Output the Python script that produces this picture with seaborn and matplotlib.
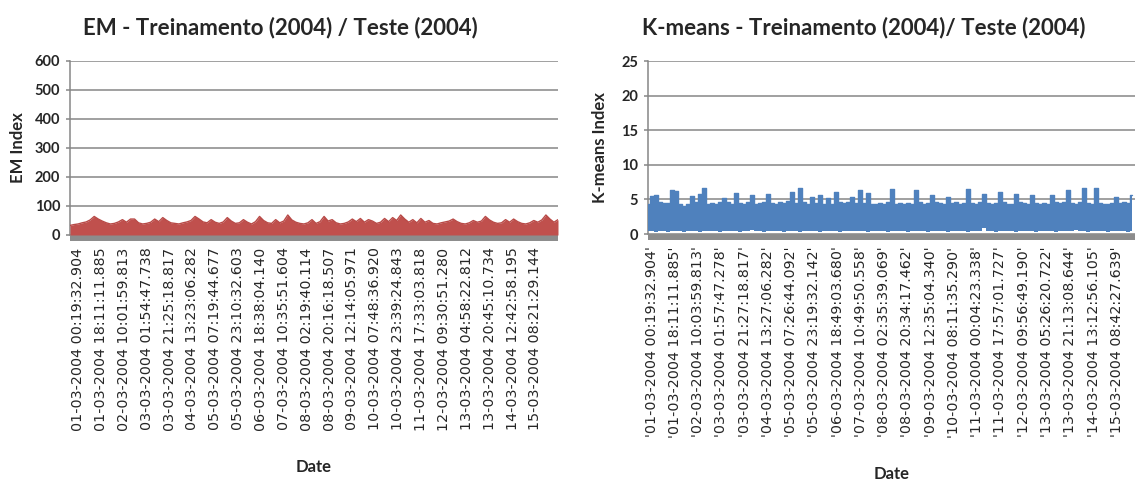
import seaborn as sns
import matplotlib.pyplot as plt
import numpy as np
import pandas as pd

# EM index (upper envelope of the red area), one value every few samples
em_index = [33, 36, 38, 42, 45, 52, 64, 55, 48, 42, 38, 40, 45, 53, 44, 55, 55, 42, 38, 40,
            44, 55, 46, 60, 50, 42, 40, 38, 42, 45, 50, 64, 55, 45, 42, 53, 44, 40, 45, 60,
            48, 40, 42, 53, 44, 38, 46, 64, 50, 42, 40, 53, 42, 48, 69, 52, 44, 40, 38, 42,
            53, 40, 46, 64, 48, 53, 42, 38, 40, 45, 55, 46, 57, 44, 53, 48, 40, 44, 57, 46,
            60, 50, 69, 55, 44, 53, 42, 57, 44, 50, 40, 38, 42, 45, 48, 55, 46, 40, 38, 42,
            50, 44, 48, 64, 52, 44, 40, 42, 53, 44, 55, 46, 40, 38, 42, 50, 44, 52, 69, 55,
            44, 53]

# K-means index: upper and lower envelope of the blue band
km_upper = [4.4, 5.5, 5.7, 4.6, 4.5, 4.5, 6.3, 6.2, 4.3, 4.0, 4.4, 5.5, 4.6, 5.8, 6.6, 4.4,
            4.5, 4.4, 4.6, 5.2, 4.6, 4.4, 5.9, 4.5, 4.3, 4.6, 5.7, 4.4, 4.5, 4.6, 5.8, 4.5,
            4.4, 4.6, 4.5, 4.7, 6.1, 4.5, 6.6, 4.6, 4.3, 5.4, 4.5, 5.6, 4.4, 5.2, 4.4, 6.1,
            4.6, 4.5, 4.6, 5.4, 4.5, 6.4, 4.5, 5.9, 4.4, 4.3, 4.5, 4.4, 4.6, 6.5, 4.4, 4.5,
            4.3, 4.5, 4.4, 6.3, 4.6, 4.4, 4.5, 5.7, 4.6, 4.5, 4.3, 5.4, 4.5, 4.6, 4.4, 4.5,
            6.5, 4.5, 4.4, 4.6, 5.8, 4.5, 4.4, 4.5, 6.1, 4.6, 4.4, 4.3, 5.8, 4.6, 4.5, 4.4,
            5.6, 4.5, 4.3, 4.5, 4.4, 5.7, 4.6, 4.5, 4.6, 6.3, 4.5, 4.4, 4.6, 6.7, 4.5, 4.4,
            6.6, 4.5, 4.4, 4.3, 4.5, 5.4, 4.5, 4.6, 4.5, 5.7]
km_lower = [0.4, 0.4, 0.35, 0.4, 0.4, 0.35, 0.4, 0.4, 0.4, 0.35, 0.4, 0.4, 0.4, 0.35, 0.4, 0.4,
            0.4, 0.4, 0.35, 0.4, 0.4, 0.4, 0.4, 0.35, 0.4, 0.4, 0.55, 0.4, 0.4, 0.35, 0.4, 0.4,
            0.4, 0.4, 0.35, 0.4, 0.4, 0.4, 0.35, 0.4, 0.4, 0.4, 0.4, 0.35, 0.4, 0.4, 0.4, 0.4,
            0.35, 0.4, 0.4, 0.4, 0.5, 0.4, 0.4, 0.35, 0.4, 0.4, 0.4, 0.4, 0.35, 0.4, 0.4, 0.4,
            0.4, 0.35, 0.4, 0.4, 0.4, 0.4, 0.35, 0.4, 0.4, 0.4, 0.4, 0.35, 0.4, 0.4, 0.4, 0.4,
            0.35, 0.4, 0.4, 0.5, 0.8, 0.4, 0.4, 0.35, 0.4, 0.4, 0.4, 0.4, 0.35, 0.4, 0.4, 0.4,
            0.4, 0.35, 0.4, 0.4, 0.4, 0.4, 0.35, 0.4, 0.4, 0.4, 0.4, 0.6, 0.4, 0.4, 0.35, 0.4,
            0.4, 0.4, 0.4, 0.35, 0.4, 0.4, 0.4, 0.4, 0.35, 0.4]

em_labels = ['01-03-2004 00:19:32.904', '01-03-2004 18:11:11.885', '02-03-2004 10:01:59.813',
             '03-03-2004 01:54:47.738', '03-03-2004 21:25:18.817', '04-03-2004 13:23:06.282',
             '05-03-2004 07:19:44.677', '05-03-2004 23:10:32.603', '06-03-2004 18:38:04.140',
             '07-03-2004 10:35:51.604', '08-03-2004 02:19:40.114', '08-03-2004 20:16:18.507',
             '09-03-2004 12:14:05.971', '10-03-2004 07:48:36.920', '10-03-2004 23:39:24.843',
             '11-03-2004 17:33:03.818', '12-03-2004 09:30:51.280', '13-03-2004 04:58:22.812',
             '13-03-2004 20:45:10.734', '14-03-2004 12:42:58.195', '15-03-2004 08:21:29.144']
km_labels = ["'01-03-2004 00:19:32.904'", "'01-03-2004 18:11:11.885'", "'02-03-2004 10:03:59.813'",
             "'03-03-2004 01:57:47.278'", "'03-03-2004 21:27:18.817'", "'04-03-2004 13:27:06.282'",
             "'05-03-2004 07:26:44.092'", "'05-03-2004 23:19:32.142'", "'06-03-2004 18:49:03.680'",
             "'07-03-2004 10:49:50.558'", "'08-03-2004 02:35:39.069'", "'08-03-2004 20:34:17.462'",
             "'09-03-2004 12:35:04.340'", "'10-03-2004 08:11:35.290'", "'11-03-2004 00:04:23.338'",
             "'11-03-2004 17:57:01.727'", "'12-03-2004 09:56:49.190'", "'13-03-2004 05:26:20.722'",
             "'13-03-2004 21:13:08.644'", "'14-03-2004 13:12:56.105'", "'15-03-2004 08:42:27.639'"]

sns.set_style('white')
plt.rcParams['font.family'] = ['Lato', 'DejaVu Sans']

RED = '#C0504D'
BLUE = '#4F81BD'
GRID = '#868686'
FLOOR = '#8C8C8C'

fig = plt.figure(figsize=(11.35, 4.8), dpi=100)
ax1 = fig.add_axes([70 / 1135, 1 - 235 / 480, 488 / 1135, 174 / 480])
ax2 = fig.add_axes([648 / 1135, 1 - 234 / 480, 487 / 1135, 173 / 480])

em_df = pd.DataFrame({'i': np.arange(len(em_index)), 'EM': em_index})
km_df = pd.DataFrame({'i': np.arange(len(km_upper)), 'up': km_upper, 'low': km_lower})

# EM chart
ax1.fill_between(em_df['i'], 0, em_df['EM'], color=RED, lw=0, zorder=3)
sns.lineplot(data=em_df, x='i', y='EM', ax=ax1, color='#B84A47', lw=1, zorder=4)
ax1.set_xlim(0, len(em_index) - 1)
ax1.set_ylim(0, 600)
ax1.set_yticks(range(0, 601, 100))
ax1.set_xticks(np.linspace(2, 115.4, len(em_labels)))
ax1.set_xticklabels(em_labels)
ax1.set_ylabel('EM Index')
ax1.yaxis.set_label_coords(-0.107, 0.5)

# K-means chart
ax2.fill_between(km_df['i'], km_df['low'], km_df['up'], step='mid', color=BLUE, lw=0, zorder=3)
sns.lineplot(data=km_df, x='i', y='up', ax=ax2, color=BLUE, lw=1,
             drawstyle='steps-mid', zorder=4)
ax2.set_xlim(0, 121.75)
ax2.set_ylim(0, 25)
ax2.set_yticks(range(0, 26, 5))
ax2.set_xticks(np.linspace(0.9, 117.2, len(km_labels)))
ax2.set_xticklabels(km_labels)
ax2.set_ylabel('K-means Index')
ax2.yaxis.set_label_coords(-0.099, 0.5)

for ax, ylab_y in [(ax1, -1.333), (ax2, -1.387)]:
    ax.grid(axis='y', color=GRID, lw=1.1, zorder=1)
    ax.set_axisbelow(True)
    for s in ['top', 'right']:
        ax.spines[s].set_visible(False)
    ax.spines['left'].set_color(GRID)
    ax.spines['left'].set_linewidth(1.1)
    ax.spines['bottom'].set_color(FLOOR)
    ax.spines['bottom'].set_linewidth(4.3)
    ax.spines['bottom'].set_position(('outward', 2))
    ax.spines['bottom'].set_capstyle('butt')
    ax.tick_params(axis='x', length=0, pad=7, labelrotation=90)
    ax.tick_params(axis='y', length=3, color=GRID, width=1.1, pad=4, left=True)
    for t in ax.get_xticklabels():
        t.set_family('DejaVu Sans')
        t.set_fontsize(10.3)
    for t in ax.get_yticklabels():
        t.set_fontweight('bold')
        t.set_fontsize(10.5)
    ax.yaxis.label.set_fontweight('bold')
    ax.yaxis.label.set_fontsize(12)
    ax.yaxis.label.set_ha('center')
    ax.yaxis.label.set_va('center')
    ax.set_xlabel('Date', fontweight='bold', fontsize=12)
    ax.xaxis.set_label_coords(0.5, ylab_y)
    ax.xaxis.label.set_va('center')

fig.text(280 / 1135, 1 - 28 / 480, 'EM - Treinamento (2004) / Teste (2004)',
         ha='center', va='center', fontsize=16, fontweight='bold')
fig.text(864 / 1135, 1 - 28 / 480, 'K-means - Treinamento (2004)/ Teste (2004)',
         ha='center', va='center', fontsize=16, fontweight='bold')

fig.savefig('out.png', dpi=100)
